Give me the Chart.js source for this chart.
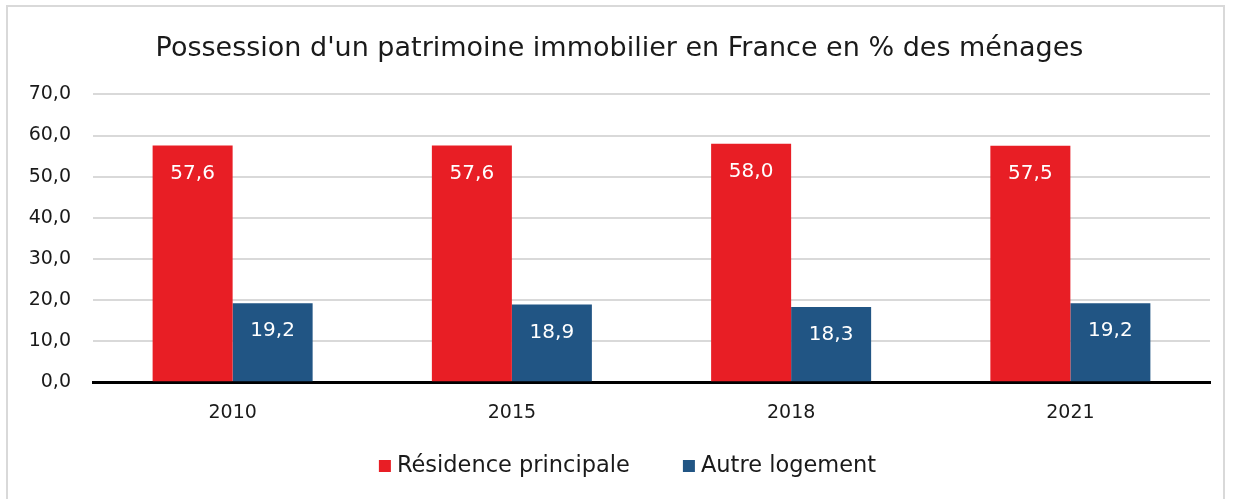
<!DOCTYPE html>
<html><head><meta charset="utf-8">
<script src="https://cdn.jsdelivr.net/npm/chart.js@4"></script>
<style>
html,body{margin:0;padding:0;background:#fff;overflow:hidden;}
#frame{position:absolute;left:6px;top:5px;width:1219px;height:500px;border:2px solid #d9d9d9;box-sizing:border-box;}
#wrap{position:absolute;left:0;top:0;width:1237px;height:499px;overflow:hidden;}
</style></head><body>
<div id="frame"></div>
<div id="wrap"><canvas id="c" width="1237" height="499"></canvas></div>
<script>
const categories = ["2010","2015","2018","2021"];
const residencePrincipale = [57.6, 57.6, 58.0, 57.5];
const autreLogement = [19.2, 18.9, 18.3, 19.2];
const seriesNames = ["Résidence principale","Autre logement"];
const titleText = "Possession d'un patrimoine immobilier en France en % des ménages";
const FONT = "'DejaVu Sans', sans-serif";
const fmt = v => v.toFixed(1).replace('.', ',');

const labelPlugin = {
  id:'inLabels',
  afterDatasetsDraw(chart){
    const ctx = chart.ctx;
    ctx.save();
    ctx.fillStyle = '#ffffff';
    ctx.font = "20px " + FONT;
    ctx.textAlign = 'center';
    ctx.textBaseline = 'middle';
    chart.data.datasets.forEach((ds, i) => {
      chart.getDatasetMeta(i).data.forEach((bar, j) => {
        ctx.fillText(fmt(ds.data[j]), bar.x, bar.y + 28);
      });
    });
    ctx.restore();
  }
};

// legend drawn below the axis, with wider spacing between entries
const legendPlugin = {
  id:'wideLegend',
  afterDraw(chart){
    const ctx = chart.ctx;
    ctx.save();
    ctx.font = "22.5px " + FONT;
    ctx.textBaseline = 'middle';
    const box = 12, gapText = 6, gapItem = 53;
    const items = chart.data.datasets.map(ds => ({text: ds.label, color: ds.backgroundColor, w: ctx.measureText(ds.label).width}));
    let total = 0;
    items.forEach((it, i) => { total += box + gapText + it.w + (i ? gapItem : 0); });
    const cx = (chart.chartArea.left + chart.chartArea.right) / 2 - 24;
    let x = cx - total / 2;
    const y = 466;
    items.forEach(it => {
      ctx.fillStyle = it.color;
      ctx.fillRect(x, y - box / 2, box, box);
      ctx.fillStyle = '#1a1a1a';
      ctx.fillText(it.text, x + box + gapText, y);
      x += box + gapText + it.w + gapItem;
    });
    ctx.restore();
  }
};

new Chart(document.getElementById('c'), {
  type:'bar',
  data:{
    labels:categories,
    datasets:[
      {label:seriesNames[0], data:residencePrincipale, backgroundColor:'#e81e25', categoryPercentage:0.573, barPercentage:1},
      {label:seriesNames[1], data:autreLogement, backgroundColor:'#215584', categoryPercentage:0.573, barPercentage:1}
    ]
  },
  options:{
    responsive:false, animation:false,
    layout:{padding:{left:29,right:27,top:29,bottom:64}},
    plugins:{
      title:{display:true, text:titleText, color:'#1a1a1a', font:{family:FONT, size:27, weight:'normal'}, padding:{top:4,bottom:29}},
      legend:{display:false},
      tooltip:{enabled:false}
    },
    scales:{
      x:{grid:{display:false}, border:{color:'#000', width:3}, ticks:{color:'#1a1a1a', font:{family:FONT,size:19}, padding:11}},
      y:{min:0,max:70, grid:{color:'#d9d9d9', lineWidth:2, drawTicks:false}, border:{display:false},
         ticks:{stepSize:10, color:'#1a1a1a', font:{family:FONT,size:19}, padding:22, callback:v=>fmt(v)},
         afterFit:s=>{ s.width = 64; }}
    }
  },
  plugins:[labelPlugin, legendPlugin]
});
</script>
</body></html>
